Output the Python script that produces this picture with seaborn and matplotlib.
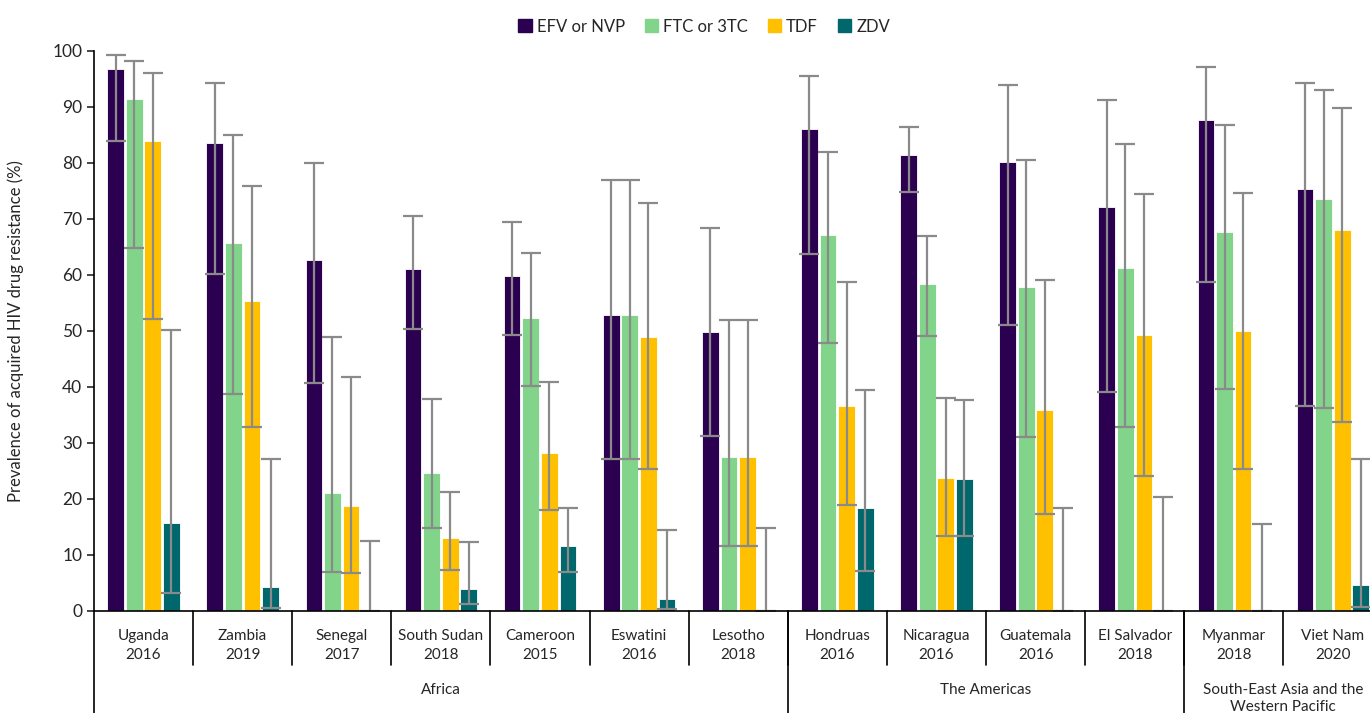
import pandas as pd
import matplotlib.pyplot as plt
import seaborn as sns

# Values
countries = ["Uganda\n2016", "Zambia\n2019", "Senegal\n2017", "South Sudan\n2018",
             "Cameroon\n2015", "Eswatini\n2016", "Lesotho\n2018", "Hondruas\n2016",
             "Nicaragua\n2016", "Guatemala\n2016", "El Salvador\n2018",
             "Myanmar\n2018", "Viet Nam\n2020"]
drugs = ["EFV or NVP", "FTC or 3TC", "TDF", "ZDV"]

efv = [96.7, 83.5, 62.6, 61.0, 59.8, 52.8, 49.8, 86.1, 81.4, 80.1, 72.1, 87.7, 75.4]
efv_lo = [83.9, 60.2, 40.7, 50.4, 49.2, 27.1, 31.2, 63.8, 74.9, 51.0, 39.1, 58.7, 36.6]
efv_hi = [99.3, 94.2, 80.0, 70.6, 69.4, 76.9, 68.4, 95.6, 86.4, 93.9, 91.2, 97.2, 94.2]

ftc = [91.4, 65.7, 21.0, 24.7, 52.3, 52.8, 27.5, 67.2, 58.3, 57.9, 61.3, 67.6, 73.5]
ftc_lo = [64.9, 38.8, 6.9, 14.8, 40.2, 27.1, 11.6, 47.9, 49.1, 31.0, 32.9, 39.7, 36.2]
ftc_hi = [98.2, 85.0, 49.0, 37.9, 63.9, 76.9, 52.0, 81.9, 66.9, 80.5, 83.4, 86.8, 93.1]

tdf = [84.0, 55.3, 18.7, 13.1, 28.2, 49.0, 27.5, 36.6, 23.8, 35.8, 49.2, 50.0, 68.1]
tdf_lo = [52.2, 32.8, 6.8, 7.4, 18.1, 25.3, 11.6, 18.9, 13.4, 17.4, 24.1, 25.3, 33.7]
tdf_hi = [96.1, 75.8, 41.8, 21.2, 40.9, 72.9, 52.0, 58.7, 38.0, 59.1, 74.5, 74.6, 89.8]

zdv = [15.7, 4.3, 0.0, 4.0, 11.6, 2.2, 0.0, 18.4, 23.5, 0.0, 0.0, 0.0, 4.6]
zdv_lo = [3.2, 0.5, 0.0, 1.2, 7.0, 0.4, 0.0, 7.2, 13.3, 0.0, 0.0, 0.0, 0.7]
zdv_hi = [50.2, 27.2, 12.5, 12.3, 18.4, 14.5, 14.9, 39.4, 37.7, 18.4, 20.4, 15.5, 27.2]

regions = ["Africa", "The Americas", "South-East Asia and the\nWestern Pacific"]
region_sizes = [7, 4, 2]

colors = {"EFV or NVP": "#2c0050", "FTC or 3TC": "#82d48b",
          "TDF": "#ffc000", "ZDV": "#00676d"}

vals = [efv, ftc, tdf, zdv]
los = [efv_lo, ftc_lo, tdf_lo, zdv_lo]
his = [efv_hi, ftc_hi, tdf_hi, zdv_hi]

rows = []
for d, v, lo, hi in zip(drugs, vals, los, his):
    for c, a, b, e in zip(countries, v, lo, hi):
        rows.append({"Country": c, "Drug": d, "Value": a, "Lo": b, "Hi": e})
df = pd.DataFrame(rows)

sns.set_style("white")
plt.rcParams["font.family"] = ["Lato", "DejaVu Sans"]

fig = plt.figure(figsize=(13.7, 7.13), dpi=100)
# the plot area runs a little past the right edge, as in the original
ax = fig.add_axes([0.0686, 0.1431, 0.9405, 0.7854])

sns.barplot(data=df, x="Country", y="Value", hue="Drug", order=countries,
            hue_order=drugs, palette=colors, saturation=1, width=0.75, gap=0.1,
            errorbar=None, edgecolor="white", linewidth=0.6, ax=ax)

# confidence intervals on each bar
for cont, d in zip(ax.containers, drugs):
    sub = df[df["Drug"] == d].set_index("Country").loc[countries]
    xs = [p.get_x() + p.get_width() / 2 for p in cont.patches]
    ax.errorbar(xs, sub["Value"], yerr=[sub["Value"] - sub["Lo"], sub["Hi"] - sub["Value"]],
                fmt="none", ecolor="#8a8a8a", elinewidth=1.6, capsize=7, capthick=1.6)

ax.set_ylim(0, 100)
ax.set_xlim(-0.5, len(countries) - 0.5)
ax.set_yticks(range(0, 101, 10))
ax.tick_params(axis="y", labelsize=12.5, length=5, width=1.2, direction="out", left=True)
ax.tick_params(axis="x", length=0, labelsize=11, pad=13)
for t in ax.get_xticklabels():
    t.set_linespacing(1.45)
ax.set_xlabel("")
ax.set_ylabel("Prevalence of acquired HIV drug resistance (%)", fontsize=12, labelpad=20)
sns.despine(ax=ax)
for s in ["left", "bottom"]:
    ax.spines[s].set_color("black")
    ax.spines[s].set_linewidth(1.2)

# multi-level category axis separators
trans = ax.get_xaxis_transform()
for i in range(1, len(countries)):
    ax.plot([i - 0.5, i - 0.5], [0, -0.097], color="black", lw=1.2,
            transform=trans, clip_on=False)
start = -0.5
for r, n in zip(regions, region_sizes):
    ax.plot([start, start], [0, -0.24], color="black", lw=1.2,
            transform=trans, clip_on=False)
    ax.text(start + n / 2, -0.128, r, transform=trans, ha="center", va="top",
            fontsize=11, linespacing=1.3)
    start += n

ax.legend_.remove()
handles = [plt.Rectangle((0, 0), 1, 1, color=colors[d]) for d in drugs]
fig.legend(handles, drugs, loc="upper center", bbox_to_anchor=(0.514, 0.995), ncol=4,
           frameon=False, fontsize=12, handlelength=0.8, handleheight=0.8,
           handletextpad=0.3, columnspacing=1.2)

fig.savefig("out.png", dpi=100)
